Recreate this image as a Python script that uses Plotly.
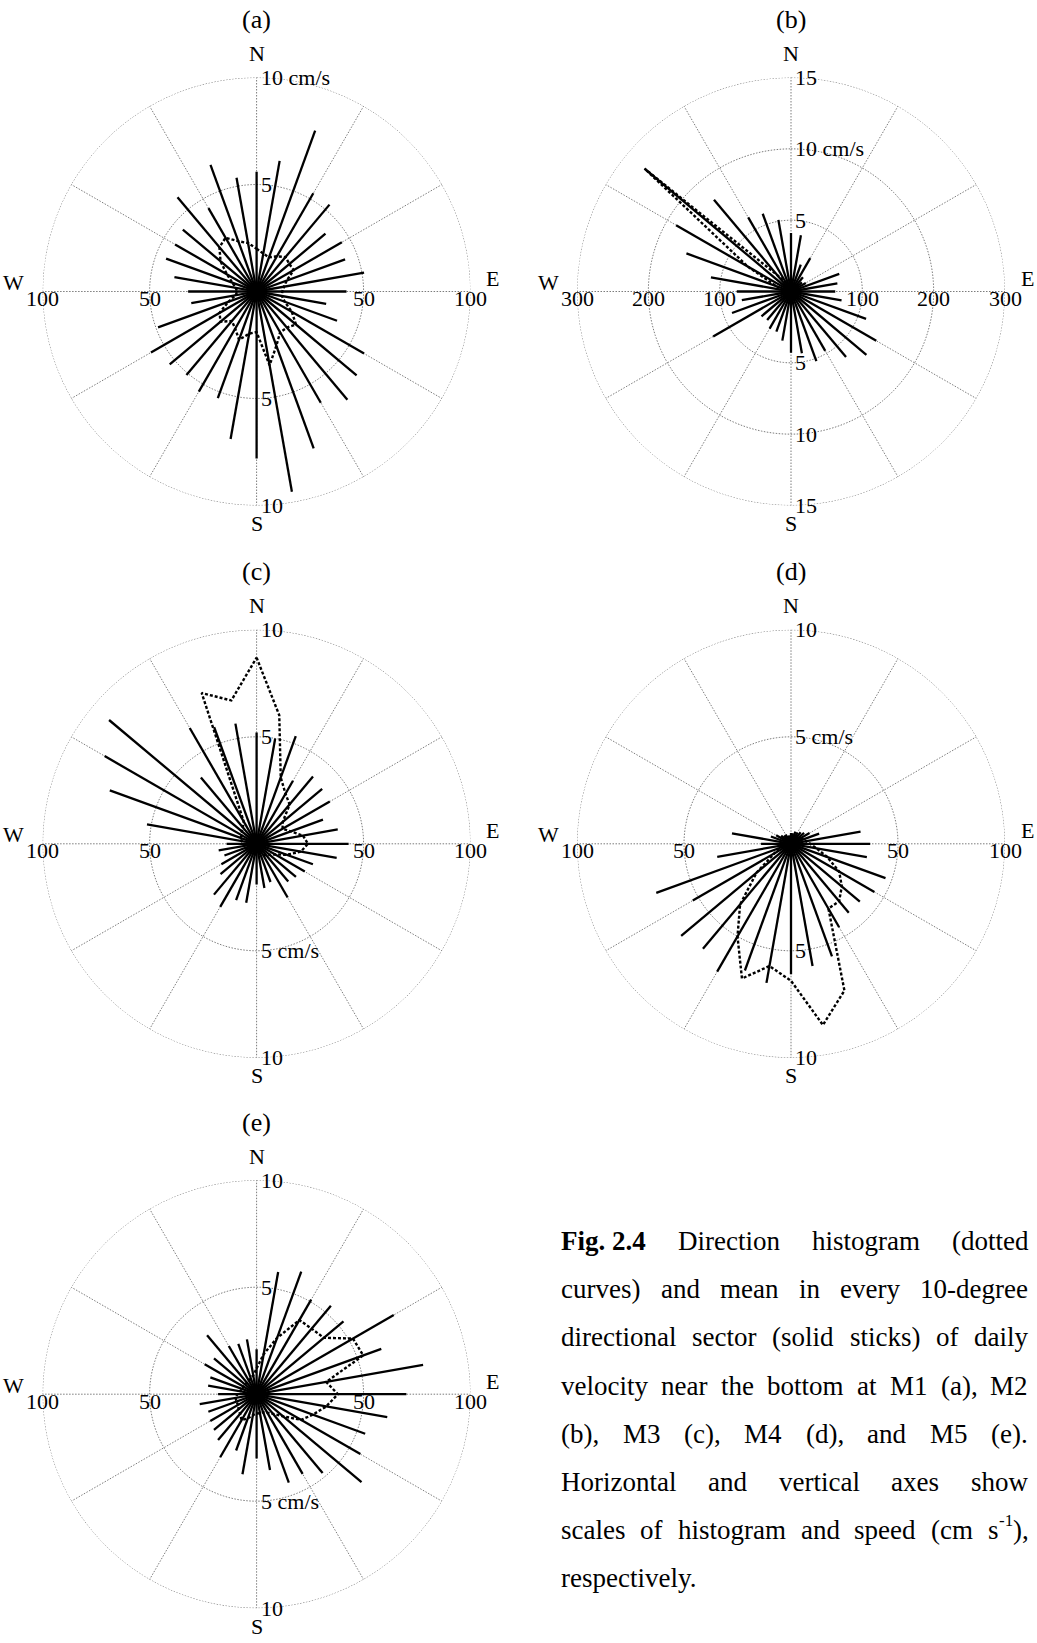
import plotly.graph_objects as go

FIG_W, FIG_H = 1037, 1643

# Sector directions, degrees clockwise from north (one stick per 10-degree sector)
directions = list(range(0, 360, 10))

# M1: mean speed per sector (cm/s) and number of days per sector
speed_m1 = [5.6, 6.2, 8.0, 5.3, 5.3, 4.2, 4.6, 4.4, 5.1, 4.2, 3.3, 4.0,
            5.8, 6.1, 6.6, 6.0, 7.8, 9.5, 7.8, 7.0, 5.3, 5.4, 5.1, 5.3,
            5.7, 4.9, 3.1, 3.2, 3.9, 4.5, 4.4, 4.5, 5.75, 4.5, 6.3, 5.4]
count_m1 = [20, 18, 17, 19, 21, 20, 20, 15, 13, 12, 12, 14,
            19, 24, 22, 22, 27, 35, 19, 20, 24, 20, 18, 22,
            20, 14, 10, 9, 10, 12, 16, 22, 27, 29, 25, 23]

# M2
speed_m2 = [4.1, 4.0, 2.0, 2.7, 1.3, 1.0, 1.2, 3.6, 3.3, 3.1, 3.6, 5.6,
            6.9, 6.9, 6.0, 4.8, 5.2, 4.4, 4.3, 3.5, 3.0, 3.0, 2.6, 2.7,
            6.3, 4.4, 3.5, 3.8, 5.7, 7.8, 9.3, 13.4, 8.4, 6.0, 5.8, 5.1]
count_m2 = [10, 8, 6, 6, 5, 5, 5, 6, 6, 6, 6, 8,
            10, 10, 9, 8, 8, 7, 7, 6, 5, 5, 5, 5,
            6, 6, 6, 7, 10, 22, 70, 268, 30, 15, 12, 10]

# M3
speed_m3 = [5.2, 5.0, 5.35, 3.4, 4.1, 4.0, 3.95, 3.3, 3.85, 4.3, 3.8, 2.8,
            2.6, 2.4, 2.3, 2.9, 1.9, 2.1, 1.9, 2.8, 2.8, 3.4, 3.1, 2.2,
            1.9, 1.6, 1.8, 1.4, 5.2, 7.3, 8.2, 9.0, 4.05, 6.25, 5.8, 5.7]
count_m3 = [87, 61, 33, 27, 24, 16, 14, 17, 22, 24, 21, 15,
            10, 8, 7, 6, 5, 5, 5, 5, 5, 5, 5, 5,
            5, 5, 5, 6, 7, 8, 8, 9, 10, 12, 75, 68]

# M4
speed_m4 = [0.5, 0.5, 0.6, 0.6, 0.7, 0.8, 1.0, 1.4, 3.3, 3.7, 3.6, 4.7,
            4.5, 4.2, 4.2, 4.5, 5.6, 5.8, 6.1, 6.6, 6.3, 6.9, 6.4, 6.7,
            5.3, 6.7, 3.5, 1.4, 2.8, 1.0, 0.8, 0.6, 0.5, 0.5, 0.4, 0.4]
count_m4 = [3, 3, 3, 3, 4, 4, 5, 6, 7, 9, 12, 18,
            26, 31, 35, 35, 73, 86, 64, 58, 67, 50, 37, 21,
            9, 6, 4, 3, 3, 3, 3, 3, 3, 3, 3, 3]

# M5
speed_m5 = [2.1, 5.8, 6.1, 5.1, 5.4, 5.3, 7.4, 6.2, 7.9, 7.0, 6.2, 5.4,
            5.6, 6.4, 4.8, 4.3, 4.4, 3.6, 3.0, 3.8, 2.8, 3.4, 2.8, 2.6,
            2.5, 2.4, 2.7, 1.8, 2.3, 2.3, 2.8, 2.6, 3.6, 2.6, 2.5, 2.6]
count_m5 = [12, 19, 28, 40, 40, 41, 52, 53, 33, 38, 33, 28,
            24, 16, 12, 10, 9, 9, 9, 10, 12, 14, 12, 11,
            10, 10, 10, 9, 8, 7, 7, 7, 7, 7, 8, 9]

# Ring values: speed scale (vertical axis) and histogram scale (horizontal axis)
speed_rings_10 = [5, 10]
speed_rings_15 = [5, 10, 15]
count_rings_100 = [50, 100]
count_rings_300 = [100, 200, 300]
spoke_angles = list(range(0, 360, 30))

# Caption words; a word is a list of (text, style) pieces
caption_lines = [
    [[("Fig. 2.4", "bold")], [("Direction", "")], [("histogram", "")], [("(dotted", "")]],
    [[(w, "")] for w in "curves) and mean in every 10-degree".split()],
    [[(w, "")] for w in "directional sector (solid sticks) of daily".split()],
    [[(w, "")] for w in "velocity near the bottom at M1 (a), M2".split()],
    [[(w, "")] for w in "(b), M3 (c), M4 (d), and M5 (e).".split()],
    [[(w, "")] for w in "Horizontal and vertical axes show".split()],
    [[(w, "")] for w in "scales of histogram and speed (cm".split()]
    + [[("s", ""), ("-1", "sup"), ("),", "")]],
    [[("respectively.", "")]],
]

# ---- layout of the five rose panels (pixel geometry) ----
R_PX = 214
panels = [
    dict(tag="(a)", speed=speed_m1, count=count_m1, rings=speed_rings_10,
         counts=count_rings_100, unit=(10, "top"), center=(256.6, 291.5)),
    dict(tag="(b)", speed=speed_m2, count=count_m2, rings=speed_rings_15,
         counts=count_rings_300, unit=(10, "top"), center=(791.0, 291.5)),
    dict(tag="(c)", speed=speed_m3, count=count_m3, rings=speed_rings_10,
         counts=count_rings_100, unit=(5, "bottom"), center=(256.6, 843.8)),
    dict(tag="(d)", speed=speed_m4, count=count_m4, rings=speed_rings_10,
         counts=count_rings_100, unit=(5, "top"), center=(791.0, 843.8)),
    dict(tag="(e)", speed=speed_m5, count=count_m5, rings=speed_rings_10,
         counts=count_rings_100, unit=(5, "bottom"), center=(256.6, 1394.2)),
]

SERIF = "Liberation Serif"
LABEL_SIZE = 22
GRID = dict(color="#7c7c7c", width=1, dash="1.5px,1.5px")


def px(x, y):
    return x / FIG_W, 1 - y / FIG_H


fig = go.Figure()
annotations = []
layout_polars = {}


def label(x, y, text, size=LABEL_SIZE, xanchor="center", yanchor="middle", weight="normal"):
    xp, yp = px(x, y)
    annotations.append(dict(x=xp, y=yp, xref="paper", yref="paper", text=text,
                            showarrow=False, xanchor=xanchor, yanchor=yanchor,
                            borderpad=0,
                            font=dict(family=SERIF, size=size, color="black", weight=weight)))


for i, p in enumerate(panels):
    sp = "polar" if i == 0 else f"polar{i + 1}"
    cx, cy = p["center"]
    rmax = p["rings"][-1]
    cmax = p["counts"][-1]
    x0, y1 = px(cx - R_PX, cy - R_PX)
    x1, y0 = px(cx + R_PX, cy + R_PX)
    layout_polars[sp] = dict(
        domain=dict(x=[x0, x1], y=[y0, y1]),
        bgcolor="rgba(0,0,0,0)",
        radialaxis=dict(visible=False, range=[0, rmax]),
        angularaxis=dict(visible=False, rotation=90, direction="clockwise"),
    )

    # dotted range rings
    ring_theta = list(range(0, 361, 2))
    for ring in p["rings"]:
        fig.add_trace(go.Scatterpolar(r=[ring] * len(ring_theta), theta=ring_theta,
                                      mode="lines", line=GRID, subplot=sp,
                                      showlegend=False, hoverinfo="skip"))
    # dotted spokes every 30 degrees
    sr, st = [], []
    for a in spoke_angles:
        sr += [0, rmax, None]
        st += [a, a, None]
    fig.add_trace(go.Scatterpolar(r=sr, theta=st, mode="lines", line=GRID,
                                  subplot=sp, showlegend=False, hoverinfo="skip"))

    # solid sticks: sector-mean speed
    kr, kt = [], []
    for d, v in zip(directions, p["speed"]):
        kr += [0, v, None]
        kt += [d, d, None]
    fig.add_trace(go.Scatterpolar(r=kr, theta=kt, mode="lines",
                                  line=dict(color="black", width=2.3),
                                  subplot=sp, showlegend=False))

    # dotted curve: direction histogram, drawn on the speed scale
    hr = [c * rmax / cmax for c in p["count"]]
    fig.add_trace(go.Scatterpolar(r=hr + hr[:1], theta=directions + directions[:1],
                                  mode="lines",
                                  line=dict(color="black", width=2.4, dash="3px,2px"),
                                  subplot=sp, showlegend=False))

    # text around the rose
    label(cx, cy - R_PX - 58, p["tag"], size=26)
    label(cx, cy - R_PX - 24, "N")
    label(cx, cy + R_PX + 18, "S")
    label(cx - R_PX - 29, cy - 9, "W")
    label(cx + R_PX + 22, cy - 13, "E")
    for c, ring in zip(p["counts"], p["rings"]):
        off = R_PX * ring / rmax
        label(cx - off, cy + 7, str(c))
        label(cx + off, cy + 7, str(c))
    unit_ring, unit_side = p["unit"]
    for ring in p["rings"]:
        off = R_PX * ring / rmax
        for side, yy in (("top", cy - off), ("bottom", cy + off)):
            txt = str(ring)
            if ring == unit_ring and side == unit_side:
                txt += " cm/s"
            label(cx + 3, yy, txt, xanchor="left")

# ---- justified caption block ----
TIMES = {
    "a": 444, "b": 500, "c": 444, "d": 500, "e": 444, "f": 333, "g": 500, "h": 500,
    "i": 278, "j": 278, "k": 500, "l": 278, "m": 778, "n": 500, "o": 500, "p": 500,
    "q": 500, "r": 333, "s": 389, "t": 278, "u": 500, "v": 500, "w": 722, "x": 500,
    "y": 500, "z": 444, "D": 722, "F": 556, "H": 722, "M": 889, "(": 333, ")": 333,
    ",": 250, ".": 250, "-": 333, " ": 250,
}
for ch in "0123456789":
    TIMES[ch] = 500
CAP_SIZE = 27
SUP_SIZE = 17
CAP_LEFT, CAP_RIGHT = 560, 1027
CAP_TOP, CAP_STEP = 1241, 48.2


def piece_width(text, style):
    size = SUP_SIZE if style == "sup" else CAP_SIZE
    units = sum(TIMES.get(c, 500) for c in text)
    if style == "bold":
        units *= 1.03
    return units * size / 1000


for li, words in enumerate(caption_lines):
    y = CAP_TOP + li * CAP_STEP
    widths = [sum(piece_width(t, s) for t, s in w) for w in words]
    last = li == len(caption_lines) - 1
    if last or len(words) == 1:
        gap = TIMES[" "] * CAP_SIZE / 1000
    else:
        gap = (CAP_RIGHT - CAP_LEFT - sum(widths)) / (len(words) - 1)
    x = CAP_LEFT
    for w, wd in zip(words, widths):
        xx = x
        for t, s in w:
            if s == "sup":
                label(xx + 1, y - 10, t, size=SUP_SIZE, xanchor="left")
            else:
                label(xx, y, t, size=CAP_SIZE, xanchor="left",
                      weight="bold" if s == "bold" else "normal")
            xx += piece_width(t, s) + (1 if s == "sup" else 0)
        x += wd + gap

fig.update_layout(
    width=FIG_W, height=FIG_H,
    margin=dict(l=0, r=0, t=0, b=0),
    paper_bgcolor="white", plot_bgcolor="white",
    showlegend=False,
    annotations=annotations,
    **layout_polars,
)

fig.write_html("out.html")
